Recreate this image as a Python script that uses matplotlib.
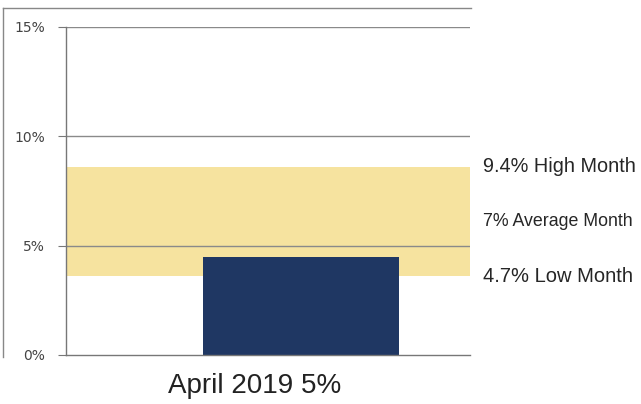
import matplotlib
matplotlib.use("Agg")
import matplotlib.pyplot as plt
from matplotlib.lines import Line2D

# Data
category = "April 2019 5%"
bar_value = 4.5            # percent
band_low, band_high = 3.6, 8.6   # typical monthly range, percent
range_labels = ["9.4% High Month", "7% Average Month", "4.7% Low Month"]
y_ticks = [0, 5, 10, 15]
y_tick_labels = ["0%", "5%", "10%", "15%"]

W, H = 641, 404
fig = plt.figure(figsize=(W / 100, H / 100), dpi=100)
fig.patch.set_facecolor("white")

L, R, B, T = 66, 470, 355, 27
ax = fig.add_axes([L / W, 1 - B / H, (R - L) / W, (B - T) / H])
ax.set_xlim(0, 1)
ax.set_ylim(0, 15)

# Shaded range band
ax.axhspan(band_low, band_high, color="#F6E39F", zorder=0, lw=0)

# Horizontal gridlines
for yv in y_ticks[1:]:
    ax.axhline(yv, color="#8a8a8a", lw=1.0, zorder=1)

# Bar
bar_center = (301 - L) / (R - L)
bar_width = (399 - 203) / (R - L)
ax.bar([bar_center], [bar_value], width=bar_width, color="#1F3763", zorder=2)

# Axes styling
for side in ["top", "right"]:
    ax.spines[side].set_visible(False)
for side in ["left", "bottom"]:
    ax.spines[side].set_color("#777777")
    ax.spines[side].set_linewidth(1.0)
ax.set_yticks(y_ticks)
ax.set_yticklabels(y_tick_labels, fontsize=10, color="#444444",
                   family="DejaVu Sans")
ax.tick_params(axis="y", direction="out", length=6, color="#777777", pad=9)
ax.set_xticks([])
ax.set_facecolor("none")

# Category label below the axis
ax.text((255 - L) / (R - L), -1.4, category, ha="center", va="center",
        fontsize=20, family="Liberation Sans", color="#222222",
        transform=ax.transData, clip_on=False)

# Range labels on the right
band_mid = (band_low + band_high) / 2
xt = (483 - L) / (R - L)
ax.text(xt, band_high, range_labels[0], ha="left", va="center", fontsize=14.3,
        family="Liberation Sans", color="#262626", clip_on=False)
ax.text(xt, band_mid, range_labels[1], ha="left", va="center", fontsize=12.8,
        family="Liberation Sans", color="#262626", clip_on=False)
ax.text(xt, band_low, range_labels[2], ha="left", va="center", fontsize=14.5,
        family="Liberation Sans", color="#262626", clip_on=False)

# Outer frame (top and left edges)
fig.add_artist(Line2D([3 / W, 471 / W], [1 - 8 / H, 1 - 8 / H],
                      color="#888888", lw=1.0))
fig.add_artist(Line2D([3 / W, 3 / W], [1 - 8 / H, 1 - 357 / H],
                      color="#888888", lw=1.0))

fig.savefig("out.png", dpi=100, facecolor="white")
